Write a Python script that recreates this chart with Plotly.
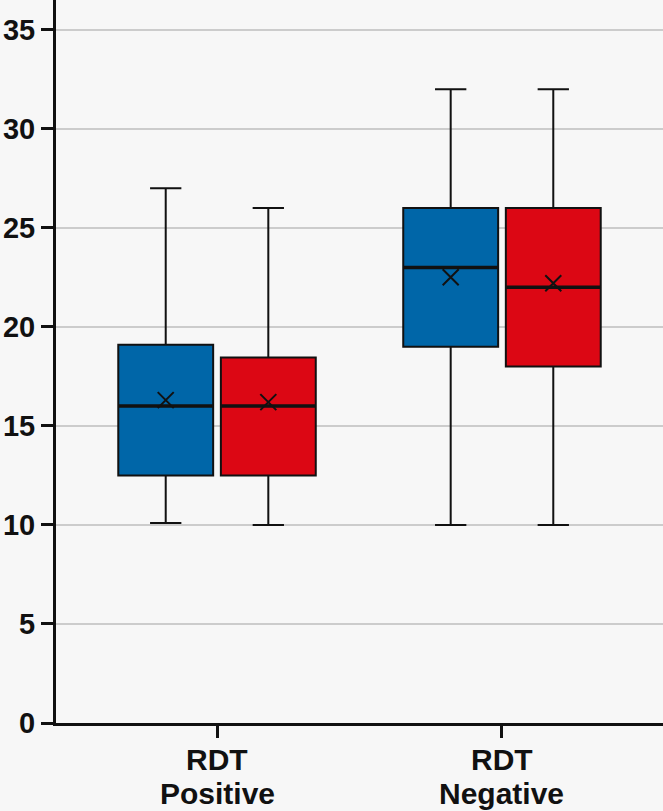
import plotly.graph_objects as go

label_line1 = ["RDT", "RDT"]
label_line2 = ["Positive", "Negative"]
series_names = ["Blue", "Red"]
series_colors = ["#0066A8", "#DC0714"]

q1 = [[12.5, 19.0], [12.5, 18.0]]
median = [[16.0, 23.0], [16.0, 22.0]]
q3 = [[19.1, 26.0], [18.45, 26.0]]
lower = [[10.1, 10.0], [10.0, 10.0]]
upper = [[27.0, 32.0], [26.0, 32.0]]
mean = [[16.3, 22.5], [16.2, 22.2]]

y_ticks = [0, 5, 10, 15, 20, 25, 30, 35]

# Layout: offset di ciascuna serie rispetto al centro della categoria
offsets = [-0.18, 0.18]
box_width = 0.333
median_marker_size = 68  # line-ew: lunghezza ~1.4 * size -> ~95 px

fig = go.Figure()
cat_pos = list(range(len(label_line1)))

for s, name in enumerate(series_names):
    xs = [p + offsets[s] for p in cat_pos]
    fig.add_trace(go.Box(
        name=name,
        x=xs,
        q1=q1[s], median=median[s], q3=q3[s],
        lowerfence=lower[s], upperfence=upper[s],
        width=box_width,
        whiskerwidth=0.33,
        fillcolor=series_colors[s],
        line={"color": "#111111", "width": 2},
        boxpoints=False,
        hoverinfo="skip",
    ))
    # mediana più spessa
    fig.add_trace(go.Scatter(
        x=xs,
        y=median[s],
        mode="markers",
        marker={"symbol": "line-ew-open", "size": median_marker_size, "color": "#111111",
                "line": {"color": "#111111", "width": 3.5}},
        hoverinfo="skip",
    ))
    # media
    fig.add_trace(go.Scatter(
        x=xs,
        y=mean[s],
        mode="markers",
        marker={"symbol": "x-thin-open", "size": 16, "color": "#111111",
                "line": {"color": "#111111", "width": 2}},
        hoverinfo="skip",
    ))

font_family = "Liberation Sans, Arial, sans-serif"
label_font = {"size": 30, "weight": "bold", "family": font_family, "color": "#111111"}

# etichette delle categorie su due righe, interlinea stretta come nel riferimento
for p, l1, l2 in zip(cat_pos, label_line1, label_line2):
    for text, shift in ((l1, -18), (l2, -52)):
        fig.add_annotation(
            x=p, xref="x", y=0, yref="paper",
            text=text, showarrow=False,
            xanchor="center", yanchor="top", yshift=shift,
            font=label_font,
        )

fig.update_layout(
    width=663, height=811,
    paper_bgcolor="#F7F7F7",
    plot_bgcolor="#F7F7F7",
    showlegend=False,
    margin={"l": 56, "r": 0, "t": 0, "b": 88},
    font={"family": font_family, "color": "#111111"},
    xaxis={
        "range": [-0.565, 1.565],
        "tickmode": "array",
        "tickvals": cat_pos,
        "showticklabels": False,
        "ticks": "outside", "ticklen": 12, "tickwidth": 3, "tickcolor": "#111111",
        "showline": True, "linewidth": 3, "linecolor": "#111111",
        "showgrid": False, "zeroline": False, "automargin": False,
    },
    yaxis={
        "range": [0, 36.5],
        "tickvals": y_ticks,
        "ticks": "outside", "ticklen": 12, "tickwidth": 3, "tickcolor": "#111111",
        "showline": True, "linewidth": 3, "linecolor": "#111111",
        "showgrid": True, "gridcolor": "#CCCCCC", "gridwidth": 2,
        "zeroline": False, "automargin": False,
        "tickfont": {"size": 29, "weight": "bold", "family": font_family},
    },
)

# il body della pagina ha 8px di margine di default: lo azzero
fig.write_html(
    "out.html",
    config={"displayModeBar": False},
    post_script="document.body.style.margin='0';",
)
